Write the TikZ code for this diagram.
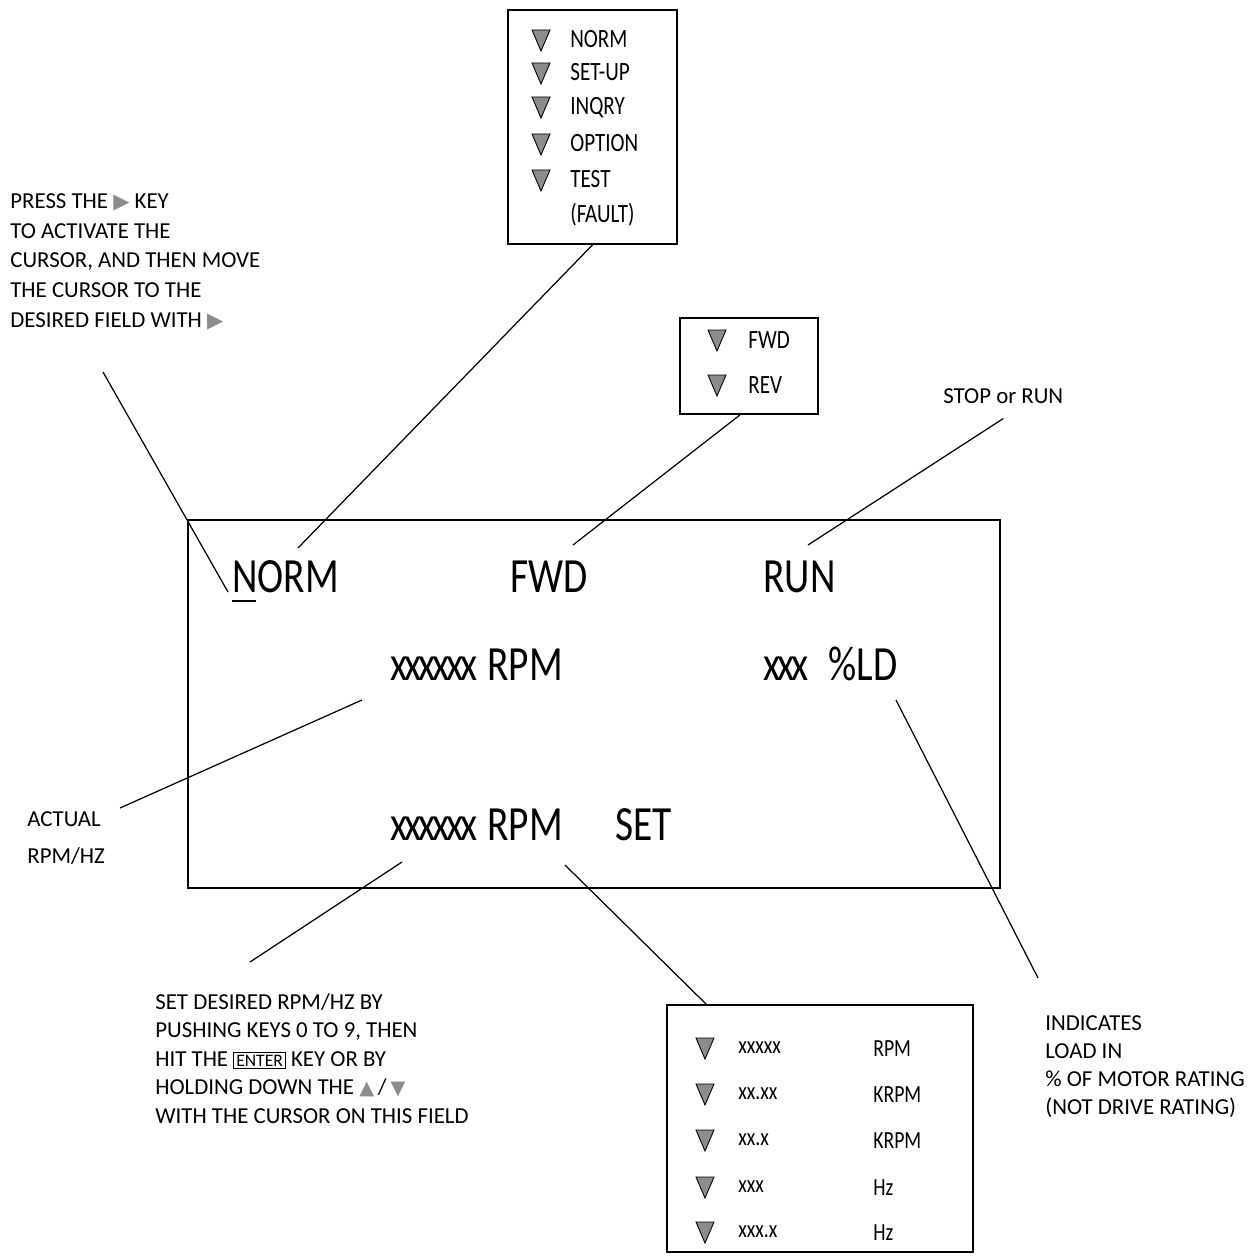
\documentclass[tikz,border=0pt]{standalone}
\usepackage{fontspec}
\setmainfont{Carlito}
\newfontfamily\lcdfont[FakeStretch=0.8]{Carlito}
\newfontfamily\notefont{Carlito}
\newfontfamily\symfont{DejaVu Sans}
\usetikzlibrary{positioning}
\definecolor{keyGray}{RGB}{140,140,140}
\newcommand{\keyright}{{\symfont\fontsize{12}{12}\selectfont\textcolor{keyGray}{▶}}}
\newcommand{\keyup}{{\symfont\fontsize{11}{11}\selectfont\textcolor{keyGray}{▲}}}
\newcommand{\keydown}{{\symfont\fontsize{11}{11}\selectfont\textcolor{keyGray}{▼}}}
\newcommand{\enterkey}{{\fontsize{10}{10}\selectfont\setlength{\fboxsep}{1.2pt}\setlength{\fboxrule}{0.5pt}\fbox{ENTER}}}
\newcommand{\xrun}[1]{{\addfontfeature{LetterSpace=-6}#1}}

\begin{document}
\begin{tikzpicture}[x=0.2mm,y=-0.2mm,
  lcdtext/.style={anchor=base west,inner sep=0pt,font=\lcdfont\fontsize{28}{30}\selectfont},
  menutext/.style={anchor=base west,inner sep=0pt,font=\lcdfont\fontsize{15}{17}\selectfont},
  rangetext/.style={anchor=base west,inner sep=0pt,font=\lcdfont\fontsize{14}{16}\selectfont},
  notetext/.style={anchor=north west,inner sep=0pt,align=left,font=\notefont\fontsize{13}{17}\selectfont},
  framebox/.style={draw,line width=1pt,inner sep=0pt},
  leader/.style={line width=0.7pt},
  seltri/.pic={\draw[fill=keyGray,line width=0.5pt] (-9,-10) -- (9,-10) -- (0,11) -- cycle;}
]
  \useasboundingbox (0,0) rectangle (1251,1256);

  % display panel
  \node[framebox,minimum width=162.4mm,minimum height=73.6mm] (display) at (594,704) {};
  \node[lcdtext] (dNorm) at (232,592) {NORM};
  \draw[line width=1.2pt] ([yshift=-1.8mm]dNorm.base west) -- ++(24,0);
  \node[lcdtext] (dFwd) at (510,592) {FWD};
  \node[lcdtext] (dRun) at (763,592) {RUN};
  \node[lcdtext] (actVal) at (390,680) {\xrun{xxxxxx}};
  \node[lcdtext] (actUnit) at (487,680) {RPM};
  \node[lcdtext] (loadVal) at (763,680) {\xrun{xxx}};
  \node[lcdtext] (loadUnit) at (828,680) {\%LD};
  \node[lcdtext] (setVal) at (390,840) {\xrun{xxxxxx}};
  \node[lcdtext] (setUnit) at (487,840) {RPM};
  \node[lcdtext] (setTag) at (615,840) {SET};

  % mode menu
  \node[framebox,minimum width=33.8mm,minimum height=46.8mm] (modeMenu) at (592.5,127) {};
  \pic at (541,40) {seltri};
  \node[menutext] (mNorm) at (570,48) {NORM};
  \pic at (541,73) {seltri};
  \node[menutext] (mSetup) at (570,81) {SET-UP};
  \pic at (541,107) {seltri};
  \node[menutext] (mInqry) at (570,115) {INQRY};
  \pic at (541,144) {seltri};
  \node[menutext] (mOption) at (570,152) {OPTION};
  \pic at (541,180) {seltri};
  \node[menutext] (mTest) at (570,188) {TEST};
  \node[menutext] (mFault) at (570,222) {(FAULT)};

  % direction menu
  \node[framebox,minimum width=27.6mm,minimum height=19.2mm] (dirMenu) at (749,366) {};
  \pic at (717,340) {seltri};
  \node[menutext] (dFwdItem) at (748,348) {FWD};
  \pic at (717,385) {seltri};
  \node[menutext] (dRevItem) at (748,393) {REV};

  % speed range menu
  \node[framebox,minimum width=61.2mm,minimum height=49.4mm] (rangeMenu) at (820,1128.5) {};
  \pic at (705,1048) {seltri};
  \node[rangetext] (rVal1) at (738,1053) {xxxxx};
  \node[rangetext] (rUnit1) at (873,1056) {RPM};
  \pic at (705,1094) {seltri};
  \node[rangetext] (rVal2) at (738,1099) {xx.xx};
  \node[rangetext] (rUnit2) at (873,1102) {KRPM};
  \pic at (705,1140) {seltri};
  \node[rangetext] (rVal3) at (738,1145) {xx.x};
  \node[rangetext] (rUnit3) at (873,1148) {KRPM};
  \pic at (705,1187) {seltri};
  \node[rangetext] (rVal4) at (738,1192) {xxx};
  \node[rangetext] (rUnit4) at (873,1195) {Hz};
  \pic at (705,1232) {seltri};
  \node[rangetext] (rVal5) at (738,1237) {xxx.x};
  \node[rangetext] (rUnit5) at (873,1240) {Hz};

  % notes
  \node[notetext] (pressNote) at (10,193) {PRESS THE \keyright\ KEY\\TO ACTIVATE THE\\CURSOR, AND THEN MOVE\\THE CURSOR TO THE\\DESIRED FIELD WITH \keyright};
  \node[notetext,anchor=base west] (runNote) at (943,403) {STOP or RUN};
  \node[notetext,font=\notefont\fontsize{13}{21}\selectfont] (actualNote) at (27,811) {ACTUAL\\RPM/HZ};
  \node[notetext,font=\notefont\fontsize{13}{16.2}\selectfont] (setNote) at (155,993) {SET DESIRED RPM/HZ BY\\PUSHING KEYS 0 TO 9, THEN\\HIT THE \enterkey\ KEY OR BY\\HOLDING DOWN THE \keyup\,/\,\keydown\\WITH THE CURSOR ON THIS FIELD};
  \node[notetext,font=\notefont\fontsize{13}{16}\selectfont] (loadNote) at (1045,1015) {INDICATES\\LOAD IN\\\% OF MOTOR RATING\\(NOT DRIVE RATING)};

  % leader lines
  \coordinate (pressTail) at (103,372);
  \coordinate (normTip) at (228,592);
  \coordinate (modeTip) at (298,548);
  \coordinate (dirTip) at (573,545);
  \coordinate (runTip) at (808,545);
  \coordinate (actualTail) at (120,808);
  \coordinate (actualTip) at (362,700);
  \coordinate (setTail) at (250,962);
  \coordinate (setTip) at (402,862);
  \coordinate (rangeTip) at (565,865);
  \coordinate (loadTip) at (896,700);
  \coordinate (loadTail) at (1038,978);
  \draw[leader] (pressTail) -- (normTip);
  \draw[leader] (modeMenu.south) -- (modeTip);
  \draw[leader] ([xshift=-1.8mm]dirMenu.south) -- (dirTip);
  \draw[leader] ([yshift=-3mm]runNote.south) -- (runTip);
  \draw[leader] (actualTail) -- (actualTip);
  \draw[leader] (setTail) -- (setTip);
  \draw[leader] (rangeTip) -- ([xshift=8mm]rangeMenu.north west);
  \draw[leader] (loadTip) -- (loadTail);
\end{tikzpicture}
\end{document}
